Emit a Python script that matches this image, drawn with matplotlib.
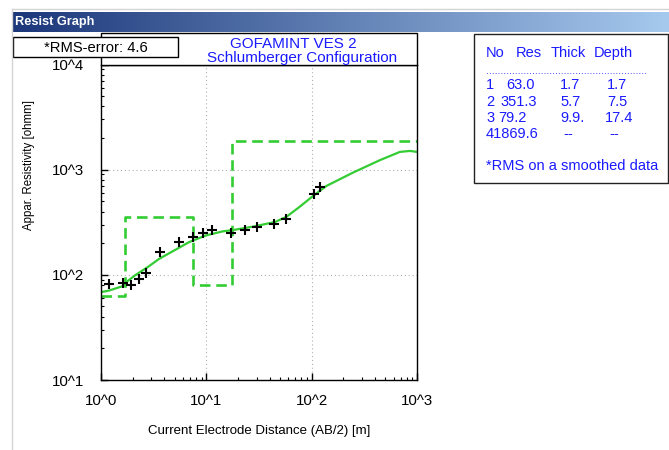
import numpy as np
import matplotlib
matplotlib.use("Agg")
import matplotlib.pyplot as plt
from matplotlib.patches import Rectangle
from matplotlib.ticker import FixedLocator, FixedFormatter, LogLocator, NullFormatter

plt.rcParams['font.family'] = ['Liberation Sans', 'DejaVu Sans']

# ---- data ----
obs_ab2 = [1.19, 1.63, 1.92, 2.27, 2.70, 3.65, 5.53, 7.47, 9.22, 11.3,
           17.3, 23.5, 30.1, 43.8, 56.5, 105, 119]
obs_rho = [82, 82.8, 79.3, 91, 104, 164, 206, 230, 249, 265,
           251, 268, 286, 304, 337, 591, 679]

curve_ab2 = [1.0, 1.2, 1.6, 1.78, 2.14, 2.76, 3.57, 4.77, 6.88, 9.9, 14.3,
             17.7, 28, 45, 58, 76.6, 103, 138, 246, 444, 688, 859, 1000]
curve_rho = [68.4, 71, 78, 87, 100, 118, 142, 167, 205, 237, 259,
             266, 288, 318, 358, 442, 562, 700, 936, 1231, 1475, 1507, 1475]

layer_no = ["1", "2", "3", "4"]
layer_res = [63.0, 351.3, 79.2, 1869.6]
layer_thick = ["1.7", "5.7", "9.9.", "--"]
layer_depth = ["1.7", "7.5", "17.4", "--"]
depth_vals = [1.7, 7.5, 17.4]

x_ticks = [1, 10, 100, 1000]
x_ticklabels = ["10^0", "10^1", "10^2", "10^3"]
y_ticks = [10, 100, 1000, 10000]
y_ticklabels = ["10^1", "10^2", "10^3", "10^4"]

title1 = "GOFAMINT VES 2"
title2 = "Schlumberger Configuration"
rms_text = "*RMS-error: 4.6"
panel_title = "Resist Graph"

W, H = 669, 450
fig = plt.figure(figsize=(W / 100, H / 100), dpi=100)
fig.patch.set_facecolor('white')

def fx(x):
    return x / W

def fy(y):
    return 1 - y / H

def rect_px(x0, y0, x1, y1):
    return [fx(x0), fy(y1), fx(x1) - fx(x0), fy(y0) - fy(y1)]

blue = '#1a1aff'
green = '#33cc33'

# window frame lines
fig.add_artist(plt.Line2D([fx(12), fx(669)], [fy(9), fy(9)], color='#d4d4d4', lw=1))
fig.add_artist(plt.Line2D([fx(12), fx(12)], [fy(9), fy(450)], color='#d4d4d4', lw=1))

# header gradient bar
hax = fig.add_axes(rect_px(12, 12, 669, 32))
c0 = np.array([28, 55, 122]) / 255.0
c1 = np.array([166, 201, 238]) / 255.0
t = np.linspace(0, 1, 300)
grad = (c0[None, :] * (1 - t[:, None]) + c1[None, :] * t[:, None])[None, :, :]
hax.imshow(grad, aspect='auto', extent=[0, 1, 0, 1])
hax.set_axis_off()
hax.text(0.005, 0.5, panel_title, color='white', fontsize=9.2, fontweight='bold',
         va='center', ha='left', transform=hax.transAxes)

# main axes
ax = fig.add_axes(rect_px(101, 64.5, 417, 380))
ax.set_xscale('log')
ax.set_yscale('log')
ax.set_xlim(1, 1000)
ax.set_ylim(10, 10000)

ax.step([1] + depth_vals + [1000], layer_res + [layer_res[-1]], where='post',
        color=green, lw=1.9, linestyle=(0, (4, 2.2)))
ax.plot(curve_ab2, curve_rho, color=green, lw=1.6)
ax.plot(obs_ab2, obs_rho, linestyle='none', marker='+', color='black',
        markersize=7.5, markeredgewidth=1.5)

ax.xaxis.set_major_locator(FixedLocator(x_ticks))
ax.xaxis.set_major_formatter(FixedFormatter(x_ticklabels))
ax.yaxis.set_major_locator(FixedLocator(y_ticks))
ax.yaxis.set_major_formatter(FixedFormatter(y_ticklabels))
ax.xaxis.set_minor_locator(LogLocator(base=10, subs=np.arange(2, 10)))
ax.yaxis.set_minor_locator(LogLocator(base=10, subs=np.arange(2, 10)))
ax.xaxis.set_minor_formatter(NullFormatter())
ax.yaxis.set_minor_formatter(NullFormatter())
ax.tick_params(axis='both', which='major', direction='in', length=5, width=1,
               labelsize=10.8, colors='black')
ax.tick_params(axis='both', which='minor', direction='in', length=2.5, width=0.8)
ax.tick_params(axis='x', pad=10)
ax.tick_params(axis='y', pad=12)
ax.grid(True, which='major', linestyle=(0, (1, 2.5)), color='#b0b0b0', lw=0.8)
for s in ax.spines.values():
    s.set_linewidth(1.0)
ax.set_xlabel("Current Electrode Distance (AB/2) [m]", fontsize=9.5, labelpad=12)
ax.set_ylabel("Appar. Resistivity [ohmm]", fontsize=8.3)
ax.yaxis.set_label_coords((fx(35) - fx(101)) / (fx(417) - fx(101)),
                          (fy(165) - fy(380)) / (fy(64.5) - fy(380)))

# title box
fig.add_artist(Rectangle((fx(101), fy(64.5)), fx(417) - fx(101), fy(33) - fy(64.5),
                         facecolor='white', edgecolor='black', lw=1.0,
                         transform=fig.transFigure))
fig.text(fx(293), fy(44.5), title1, color=blue, fontsize=11, ha='center', va='center')
fig.text(fx(302), fy(58), title2, color=blue, fontsize=11, ha='center', va='center')

# RMS box
fig.add_artist(Rectangle((fx(13), fy(57)), fx(178) - fx(13), fy(37) - fy(57),
                         facecolor='white', edgecolor='black', lw=1.0,
                         transform=fig.transFigure))
fig.text(fx(96), fy(47.5), rms_text, color='black', fontsize=10.6, ha='center', va='center')

# table box
fig.add_artist(Rectangle((fx(474), fy(183)), fx(668) - fx(474), fy(34) - fy(183),
                         facecolor='white', edgecolor='#222222', lw=1.0,
                         transform=fig.transFigure))
tfs = 10.5
hdr_y = 53
fig.text(fx(486), fy(hdr_y), "No", color=blue, fontsize=tfs, va='center')
fig.text(fx(516), fy(hdr_y), "Res", color=blue, fontsize=tfs, va='center')
fig.text(fx(551), fy(hdr_y), "Thick", color=blue, fontsize=tfs, va='center')
fig.text(fx(594), fy(hdr_y), "Depth", color=blue, fontsize=tfs, va='center')
fig.text(fx(486), fy(71), "." * 56, color=blue, fontsize=7.5, va='center')
row_y = [85, 101.5, 118, 134.5]
res_x = [506, 500, 498, 492]
thick_x = [560, 560, 560, 563]
depth_x = [607, 607, 605, 609]
for i in range(4):
    if i < 3:
        fig.text(fx(486), fy(row_y[i]), layer_no[i], color=blue, fontsize=tfs, va='center')
        fig.text(fx(res_x[i]), fy(row_y[i]), f"{layer_res[i]:.1f}", color=blue,
                 fontsize=tfs, va='center')
    else:
        fig.text(fx(486), fy(row_y[i]), f"{layer_no[i]}{layer_res[i]:.1f}", color=blue,
                 fontsize=tfs, va='center')
    fig.text(fx(thick_x[i]), fy(row_y[i]), layer_thick[i], color=blue, fontsize=tfs, va='center')
    fig.text(fx(depth_x[i]), fy(row_y[i]), layer_depth[i], color=blue, fontsize=tfs, va='center')
fig.text(fx(486), fy(166.5), "*RMS on a smoothed data", color=blue, fontsize=tfs, va='center')

fig.savefig("out.png", dpi=100)
